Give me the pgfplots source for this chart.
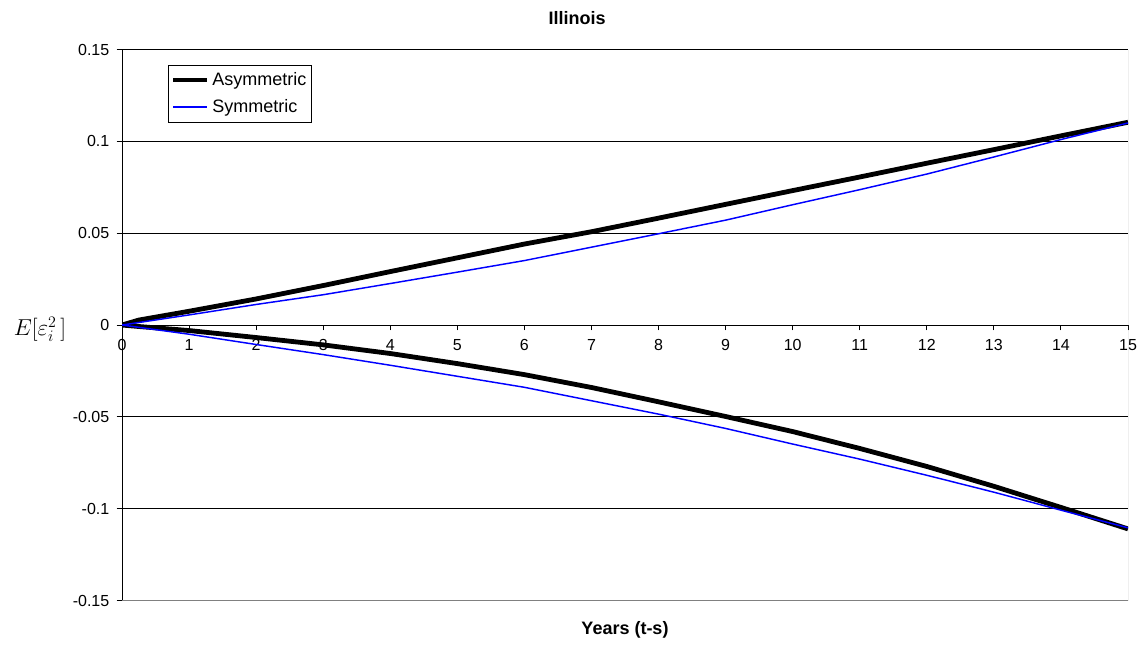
\documentclass[border=0pt]{standalone}
\usepackage{pgfplots}
\pgfplotsset{compat=1.18}
\usepackage{fontspec}
\setmainfont{Liberation Sans}
\definecolor{xlblue}{RGB}{0,0,255}
\begin{document}
\begin{tikzpicture}
\useasboundingbox (0,0) rectangle (857.25pt,483pt);
\begin{axis}[
  at={(91.5pt,32.6pt)}, anchor=south west,
  scale only axis, width=754.5pt, height=413.25pt,
  xmin=0, xmax=15, ymin=-0.15, ymax=0.15,
  axis x line=middle, axis y line=left,
  axis line style={-, black, line width=0.75pt},
  hide obscured x ticks=false, hide obscured y ticks=false,
  tick align=outside, major tick length=4pt,
  tick style={black, line width=0.75pt},
  xtick={0,1,2,3,4,5,6,7,8,9,10,11,12,13,14,15},
  xticklabels={0,1,2,3,4,5,6,7,8,9,10,11,12,13,14,15},
  ytick={-0.15,-0.1,-0.05,0,0.05,0.1,0.15},
  yticklabels={-0.15,-0.1,-0.05,0,0.05,0.1,0.15},
  ymajorgrids, grid style={black, line width=0.75pt},
  ticklabel style={font=\fontsize{12}{14}\selectfont},
  xticklabel style={yshift=-3pt},
  yticklabel style={xshift=-2pt},
  legend cell align=left,
  legend style={at={(rel axis cs:0.0457,0.972)}, anchor=north west,
    font=\fontsize{13.5}{16}\selectfont,
    inner xsep=2pt, inner ysep=3.5pt, row sep=5pt},
]
\addplot[black, line width=3.6pt,
  legend image code/.code={\draw[draw=black, line width=3.6pt] (0pt,0pt) -- (25.5pt,0pt);}] coordinates {
(0,0) (0.25,0.0027) (1,0.0075) (2,0.0142) (3,0.0215) (4,0.0291) (5,0.0366)
(6,0.0441) (7,0.0508) (8,0.0582) (9,0.0657) (10,0.0732) (11,0.0806)
(12,0.0881) (13,0.0955) (14,0.1030) (15,0.1104)};
\addlegendentry{Asymmetric}
\addplot[black, line width=3.6pt, forget plot] coordinates {
(0,0) (0.25,-0.0008) (1,-0.0030) (2,-0.0068) (3,-0.0108) (4,-0.0155) (5,-0.0210)
(6,-0.0270) (7,-0.0340) (8,-0.0418) (9,-0.0498) (10,-0.0580) (11,-0.0672)
(12,-0.0770) (13,-0.0878) (14,-0.0993) (15,-0.1110)};
\addplot[xlblue, line width=1.1pt,
  legend image code/.code={\draw[draw=xlblue, line width=1.3pt] (0pt,0pt) -- (25.5pt,0pt);}] coordinates {
(0,0) (1,0.0055) (2,0.0112) (3,0.0165) (4,0.0226) (5,0.0288) (6,0.0351)
(7,0.0424) (8,0.0497) (9,0.0571) (10,0.0655) (11,0.0737) (12,0.0822)
(13,0.0915) (14,0.1010) (15,0.1100)};
\addlegendentry{Symmetric}
\addplot[xlblue, line width=1.1pt, forget plot] coordinates {
(0,0) (1,-0.0050) (2,-0.0106) (3,-0.0161) (4,-0.0219) (5,-0.0279) (6,-0.0339)
(7,-0.0412) (8,-0.0485) (9,-0.0563) (10,-0.0648) (11,-0.0730) (12,-0.0818)
(13,-0.0910) (14,-0.1008) (15,-0.1104)};
\draw[gray, line width=0.75pt] (rel axis cs:0,0) -- (rel axis cs:1,0) -- (rel axis cs:1,1);
\end{axis}
\node[font=\bfseries\fontsize{13.5}{16}\selectfont] at (432.75pt,469.1pt) {Illinois};
\node[font=\bfseries\fontsize{13.5}{16}\selectfont] at (468.75pt,10.9pt) {Years (t-s)};
\node[font=\fontsize{18}{21}\selectfont] at (30pt,236.25pt) {$E[\varepsilon_i^{2}\,]$};
\end{tikzpicture}
\end{document}
